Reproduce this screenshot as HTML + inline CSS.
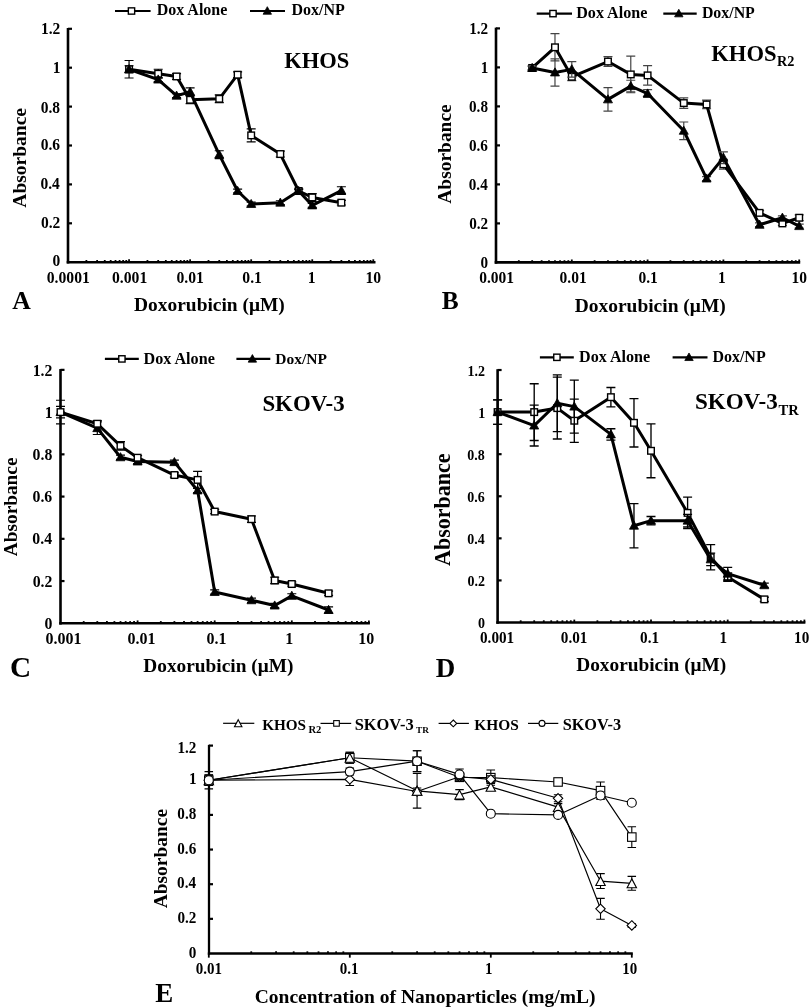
<!DOCTYPE html>
<html><head><meta charset="utf-8"><style>
html,body{margin:0;padding:0;background:#fff;}
svg{display:block;font-family:"Liberation Serif", serif;filter:blur(0.35px);}
</style></head><body>
<svg width="810" height="1008" viewBox="0 0 810 1008" fill="#000">
<rect width="810" height="1008" fill="#fff"/>
<line x1="68" y1="28" x2="68" y2="263.5" stroke="#000" stroke-width="2.6"/>
<line x1="66.7" y1="262.2" x2="375.5" y2="262.2" stroke="#000" stroke-width="2.6"/>
<line x1="68" y1="223.3" x2="72" y2="223.3" stroke="#000" stroke-width="2.2"/>
<line x1="68" y1="184.4" x2="72" y2="184.4" stroke="#000" stroke-width="2.2"/>
<line x1="68" y1="145.5" x2="72" y2="145.5" stroke="#000" stroke-width="2.2"/>
<line x1="68" y1="106.6" x2="72" y2="106.6" stroke="#000" stroke-width="2.2"/>
<line x1="68" y1="67.7" x2="72" y2="67.7" stroke="#000" stroke-width="2.2"/>
<line x1="68" y1="28.8" x2="72" y2="28.8" stroke="#000" stroke-width="2.2"/>
<line x1="86.38" y1="262.2" x2="86.38" y2="260" stroke="#000" stroke-width="1.8"/>
<line x1="97.13" y1="262.2" x2="97.13" y2="260" stroke="#000" stroke-width="1.8"/>
<line x1="104.76" y1="262.2" x2="104.76" y2="260" stroke="#000" stroke-width="1.8"/>
<line x1="110.68" y1="262.2" x2="110.68" y2="260" stroke="#000" stroke-width="1.8"/>
<line x1="115.51" y1="262.2" x2="115.51" y2="260" stroke="#000" stroke-width="1.8"/>
<line x1="119.6" y1="262.2" x2="119.6" y2="260" stroke="#000" stroke-width="1.8"/>
<line x1="123.14" y1="262.2" x2="123.14" y2="260" stroke="#000" stroke-width="1.8"/>
<line x1="126.27" y1="262.2" x2="126.27" y2="260" stroke="#000" stroke-width="1.8"/>
<line x1="129.06" y1="262.2" x2="129.06" y2="259.3" stroke="#000" stroke-width="1.8"/>
<line x1="147.44" y1="262.2" x2="147.44" y2="260" stroke="#000" stroke-width="1.8"/>
<line x1="158.19" y1="262.2" x2="158.19" y2="260" stroke="#000" stroke-width="1.8"/>
<line x1="165.82" y1="262.2" x2="165.82" y2="260" stroke="#000" stroke-width="1.8"/>
<line x1="171.74" y1="262.2" x2="171.74" y2="260" stroke="#000" stroke-width="1.8"/>
<line x1="176.57" y1="262.2" x2="176.57" y2="260" stroke="#000" stroke-width="1.8"/>
<line x1="180.66" y1="262.2" x2="180.66" y2="260" stroke="#000" stroke-width="1.8"/>
<line x1="184.2" y1="262.2" x2="184.2" y2="260" stroke="#000" stroke-width="1.8"/>
<line x1="187.33" y1="262.2" x2="187.33" y2="260" stroke="#000" stroke-width="1.8"/>
<line x1="190.12" y1="262.2" x2="190.12" y2="259.3" stroke="#000" stroke-width="1.8"/>
<line x1="208.5" y1="262.2" x2="208.5" y2="260" stroke="#000" stroke-width="1.8"/>
<line x1="219.25" y1="262.2" x2="219.25" y2="260" stroke="#000" stroke-width="1.8"/>
<line x1="226.88" y1="262.2" x2="226.88" y2="260" stroke="#000" stroke-width="1.8"/>
<line x1="232.8" y1="262.2" x2="232.8" y2="260" stroke="#000" stroke-width="1.8"/>
<line x1="237.63" y1="262.2" x2="237.63" y2="260" stroke="#000" stroke-width="1.8"/>
<line x1="241.72" y1="262.2" x2="241.72" y2="260" stroke="#000" stroke-width="1.8"/>
<line x1="245.26" y1="262.2" x2="245.26" y2="260" stroke="#000" stroke-width="1.8"/>
<line x1="248.39" y1="262.2" x2="248.39" y2="260" stroke="#000" stroke-width="1.8"/>
<line x1="251.18" y1="262.2" x2="251.18" y2="259.3" stroke="#000" stroke-width="1.8"/>
<line x1="269.56" y1="262.2" x2="269.56" y2="260" stroke="#000" stroke-width="1.8"/>
<line x1="280.31" y1="262.2" x2="280.31" y2="260" stroke="#000" stroke-width="1.8"/>
<line x1="287.94" y1="262.2" x2="287.94" y2="260" stroke="#000" stroke-width="1.8"/>
<line x1="293.86" y1="262.2" x2="293.86" y2="260" stroke="#000" stroke-width="1.8"/>
<line x1="298.69" y1="262.2" x2="298.69" y2="260" stroke="#000" stroke-width="1.8"/>
<line x1="302.78" y1="262.2" x2="302.78" y2="260" stroke="#000" stroke-width="1.8"/>
<line x1="306.32" y1="262.2" x2="306.32" y2="260" stroke="#000" stroke-width="1.8"/>
<line x1="309.45" y1="262.2" x2="309.45" y2="260" stroke="#000" stroke-width="1.8"/>
<line x1="312.24" y1="262.2" x2="312.24" y2="259.3" stroke="#000" stroke-width="1.8"/>
<line x1="330.62" y1="262.2" x2="330.62" y2="260" stroke="#000" stroke-width="1.8"/>
<line x1="341.37" y1="262.2" x2="341.37" y2="260" stroke="#000" stroke-width="1.8"/>
<line x1="349" y1="262.2" x2="349" y2="260" stroke="#000" stroke-width="1.8"/>
<line x1="354.92" y1="262.2" x2="354.92" y2="260" stroke="#000" stroke-width="1.8"/>
<line x1="359.75" y1="262.2" x2="359.75" y2="260" stroke="#000" stroke-width="1.8"/>
<line x1="363.84" y1="262.2" x2="363.84" y2="260" stroke="#000" stroke-width="1.8"/>
<line x1="367.38" y1="262.2" x2="367.38" y2="260" stroke="#000" stroke-width="1.8"/>
<line x1="370.51" y1="262.2" x2="370.51" y2="260" stroke="#000" stroke-width="1.8"/>
<line x1="373.3" y1="262.2" x2="373.3" y2="259.3" stroke="#000" stroke-width="1.8"/>
<path d="M129.06 65.75V72.76M124.56 65.75H133.56M124.56 72.76H133.56" stroke="#000" stroke-width="1.2" fill="none"/>
<path d="M158.19 69.26V78.2M153.69 69.26H162.69M153.69 78.2H162.69" stroke="#000" stroke-width="1.2" fill="none"/>
<path d="M176.57 73.53V79.37M172.07 73.53H181.07M172.07 79.37H181.07" stroke="#000" stroke-width="1.2" fill="none"/>
<path d="M190.12 95.9V103.68M185.62 95.9H194.62M185.62 103.68H194.62" stroke="#000" stroke-width="1.2" fill="none"/>
<path d="M219.25 94.93V102.71M214.75 94.93H223.75M214.75 102.71H223.75" stroke="#000" stroke-width="1.2" fill="none"/>
<path d="M237.63 71.78V77.62M233.13 71.78H242.13M233.13 77.62H242.13" stroke="#000" stroke-width="1.2" fill="none"/>
<path d="M251.18 128.97V141.8M246.68 128.97H255.68M246.68 141.8H255.68" stroke="#000" stroke-width="1.2" fill="none"/>
<path d="M280.31 151.14V156.98M275.81 151.14H284.81M275.81 156.98H284.81" stroke="#000" stroke-width="1.2" fill="none"/>
<path d="M298.69 189.07V192.96M294.19 189.07H303.19M294.19 192.96H303.19" stroke="#000" stroke-width="1.2" fill="none"/>
<path d="M312.24 193.54V201.32M307.74 193.54H316.74M307.74 201.32H316.74" stroke="#000" stroke-width="1.2" fill="none"/>
<path d="M341.37 200.35V205.02M336.87 200.35H345.87M336.87 205.02H345.87" stroke="#000" stroke-width="1.2" fill="none"/>
<path d="M129.06 69.26 L158.19 73.73 L176.57 76.45 L190.12 99.79 L219.25 98.82 L237.63 74.7 L251.18 135.39 L280.31 154.06 L298.69 191.01 L312.24 197.43 L341.37 202.68" stroke="#000" stroke-width="3" fill="none" stroke-linejoin="round"/>
<rect x="125.76" y="65.96" width="6.6" height="6.6" fill="#fff" stroke="#000" stroke-width="1.4"/>
<rect x="154.89" y="70.43" width="6.6" height="6.6" fill="#fff" stroke="#000" stroke-width="1.4"/>
<rect x="173.27" y="73.15" width="6.6" height="6.6" fill="#fff" stroke="#000" stroke-width="1.4"/>
<rect x="186.82" y="96.49" width="6.6" height="6.6" fill="#fff" stroke="#000" stroke-width="1.4"/>
<rect x="215.95" y="95.52" width="6.6" height="6.6" fill="#fff" stroke="#000" stroke-width="1.4"/>
<rect x="234.33" y="71.4" width="6.6" height="6.6" fill="#fff" stroke="#000" stroke-width="1.4"/>
<rect x="247.88" y="132.09" width="6.6" height="6.6" fill="#fff" stroke="#000" stroke-width="1.4"/>
<rect x="277.01" y="150.76" width="6.6" height="6.6" fill="#fff" stroke="#000" stroke-width="1.4"/>
<rect x="295.39" y="187.71" width="6.6" height="6.6" fill="#fff" stroke="#000" stroke-width="1.4"/>
<rect x="308.94" y="194.13" width="6.6" height="6.6" fill="#fff" stroke="#000" stroke-width="1.4"/>
<rect x="338.07" y="199.38" width="6.6" height="6.6" fill="#fff" stroke="#000" stroke-width="1.4"/>
<path d="M129.06 60.5V78.01M124.56 60.5H133.56M124.56 78.01H133.56" stroke="#000" stroke-width="1.2" fill="none"/>
<path d="M158.19 77.62V81.51M153.69 77.62H162.69M153.69 81.51H162.69" stroke="#000" stroke-width="1.2" fill="none"/>
<path d="M176.57 93.76V97.65M172.07 93.76H181.07M172.07 97.65H181.07" stroke="#000" stroke-width="1.2" fill="none"/>
<path d="M190.12 87.93V95.71M185.62 87.93H194.62M185.62 95.71H194.62" stroke="#000" stroke-width="1.2" fill="none"/>
<path d="M219.25 150.75V158.53M214.75 150.75H223.75M214.75 158.53H223.75" stroke="#000" stroke-width="1.2" fill="none"/>
<path d="M237.63 189.07V192.96M233.13 189.07H242.13M233.13 192.96H242.13" stroke="#000" stroke-width="1.2" fill="none"/>
<path d="M251.18 202.1V205.99M246.68 202.1H255.68M246.68 205.99H255.68" stroke="#000" stroke-width="1.2" fill="none"/>
<path d="M280.31 200.74V204.63M275.81 200.74H284.81M275.81 204.63H284.81" stroke="#000" stroke-width="1.2" fill="none"/>
<path d="M298.69 189.07V192.96M294.19 189.07H303.19M294.19 192.96H303.19" stroke="#000" stroke-width="1.2" fill="none"/>
<path d="M312.24 203.46V207.35M307.74 203.46H316.74M307.74 207.35H316.74" stroke="#000" stroke-width="1.2" fill="none"/>
<path d="M341.37 186.73V194.51M336.87 186.73H345.87M336.87 194.51H345.87" stroke="#000" stroke-width="1.2" fill="none"/>
<path d="M129.06 69.26 L158.19 79.56 L176.57 95.71 L190.12 91.82 L219.25 154.64 L237.63 191.01 L251.18 204.04 L280.31 202.68 L298.69 191.01 L312.24 205.41 L341.37 190.62" stroke="#000" stroke-width="3" fill="none" stroke-linejoin="round"/>
<path d="M129.06 64.61L133.57 72.74L124.55 72.74Z" fill="#000" stroke="#000" stroke-width="0.8"/>
<path d="M158.19 74.92L162.71 83.05L153.68 83.05Z" fill="#000" stroke="#000" stroke-width="0.8"/>
<path d="M176.57 91.06L181.09 99.19L172.06 99.19Z" fill="#000" stroke="#000" stroke-width="0.8"/>
<path d="M190.12 87.17L194.63 95.3L185.61 95.3Z" fill="#000" stroke="#000" stroke-width="0.8"/>
<path d="M219.25 150L223.77 158.12L214.74 158.12Z" fill="#000" stroke="#000" stroke-width="0.8"/>
<path d="M237.63 186.37L242.15 194.5L233.12 194.5Z" fill="#000" stroke="#000" stroke-width="0.8"/>
<path d="M251.18 199.4L255.69 207.53L246.67 207.53Z" fill="#000" stroke="#000" stroke-width="0.8"/>
<path d="M280.31 198.04L284.83 206.17L275.8 206.17Z" fill="#000" stroke="#000" stroke-width="0.8"/>
<path d="M298.69 186.37L303.21 194.5L294.18 194.5Z" fill="#000" stroke="#000" stroke-width="0.8"/>
<path d="M312.24 200.76L316.75 208.89L307.73 208.89Z" fill="#000" stroke="#000" stroke-width="0.8"/>
<path d="M341.37 185.98L345.89 194.11L336.86 194.11Z" fill="#000" stroke="#000" stroke-width="0.8"/>
<line x1="115" y1="11" x2="150.6" y2="11" stroke="#000" stroke-width="2.2"/>
<rect x="128.35" y="7.85" width="6.3" height="6.3" fill="#fff" stroke="#000" stroke-width="1.4"/>
<text x="156.72" y="15.2" font-size="15.99" font-weight="bold" >Dox Alone</text>
<line x1="250" y1="11" x2="285" y2="11" stroke="#000" stroke-width="2.2"/>
<path d="M267.3 6.68L271.5 14.24L263.1 14.24Z" fill="#000" stroke="#000" stroke-width="0.8"/>
<text x="291.42" y="15.2" font-size="16" font-weight="bold" >Dox/NP</text>
<text x="284.21" y="68.2" font-size="22.56" font-weight="bold" >KHOS</text>
<text transform="translate(52.43,266.44) scale(1,1.07)" font-size="15.5" font-weight="bold" >0</text>
<text transform="translate(40.88,227.9) scale(1,1.07)" font-size="15.5" font-weight="bold" >0.2</text>
<text transform="translate(40.5,189.1) scale(1,1.07)" font-size="15.5" font-weight="bold" >0.4</text>
<text transform="translate(40.69,149.9) scale(1,1.07)" font-size="15.5" font-weight="bold" >0.6</text>
<text transform="translate(40.73,112.9) scale(1,1.07)" font-size="15.5" font-weight="bold" >0.8</text>
<text transform="translate(52.66,72.57) scale(1,1.07)" font-size="15.5" font-weight="bold" >1</text>
<text transform="translate(40.88,34.18) scale(1,1.07)" font-size="15.5" font-weight="bold" >1.2</text>
<text transform="translate(46.73,282.8) scale(1,1.06)" font-size="15.7" font-weight="bold" >0.0001</text>
<text transform="translate(111.96,282.8) scale(1,1.06)" font-size="15.7" font-weight="bold" >0.001</text>
<text transform="translate(176.38,282.8) scale(1,1.06)" font-size="15.7" font-weight="bold" >0.01</text>
<text transform="translate(242.31,282.8) scale(1,1.06)" font-size="15.7" font-weight="bold" >0.1</text>
<text transform="translate(307.76,282.8) scale(1,1.06)" font-size="15.7" font-weight="bold" >1</text>
<text transform="translate(365.42,282.8) scale(1,1.06)" font-size="15.7" font-weight="bold" >10</text>
<text x="134.06" y="310.9" font-size="19.43" font-weight="bold" >Doxorubicin (μM)</text>
<text x="12.14" y="308.9" font-size="25.67" font-weight="bold" >A</text>
<text transform="translate(26.2,207.7) rotate(-90)" x="0" y="0" font-size="19.51" font-weight="bold">Absorbance</text>
<line x1="496" y1="27.6" x2="496" y2="263.7" stroke="#000" stroke-width="2.6"/>
<line x1="494.7" y1="262.4" x2="800.2" y2="262.4" stroke="#000" stroke-width="2.6"/>
<line x1="496" y1="223.4" x2="500" y2="223.4" stroke="#000" stroke-width="2.2"/>
<line x1="496" y1="184.4" x2="500" y2="184.4" stroke="#000" stroke-width="2.2"/>
<line x1="496" y1="145.4" x2="500" y2="145.4" stroke="#000" stroke-width="2.2"/>
<line x1="496" y1="106.4" x2="500" y2="106.4" stroke="#000" stroke-width="2.2"/>
<line x1="496" y1="67.4" x2="500" y2="67.4" stroke="#000" stroke-width="2.2"/>
<line x1="496" y1="28.4" x2="500" y2="28.4" stroke="#000" stroke-width="2.2"/>
<line x1="518.82" y1="262.4" x2="518.82" y2="260.2" stroke="#000" stroke-width="1.8"/>
<line x1="532.17" y1="262.4" x2="532.17" y2="260.2" stroke="#000" stroke-width="1.8"/>
<line x1="541.64" y1="262.4" x2="541.64" y2="260.2" stroke="#000" stroke-width="1.8"/>
<line x1="548.98" y1="262.4" x2="548.98" y2="260.2" stroke="#000" stroke-width="1.8"/>
<line x1="554.98" y1="262.4" x2="554.98" y2="260.2" stroke="#000" stroke-width="1.8"/>
<line x1="560.06" y1="262.4" x2="560.06" y2="260.2" stroke="#000" stroke-width="1.8"/>
<line x1="564.45" y1="262.4" x2="564.45" y2="260.2" stroke="#000" stroke-width="1.8"/>
<line x1="568.33" y1="262.4" x2="568.33" y2="260.2" stroke="#000" stroke-width="1.8"/>
<line x1="571.8" y1="262.4" x2="571.8" y2="259.5" stroke="#000" stroke-width="1.8"/>
<line x1="594.62" y1="262.4" x2="594.62" y2="260.2" stroke="#000" stroke-width="1.8"/>
<line x1="607.97" y1="262.4" x2="607.97" y2="260.2" stroke="#000" stroke-width="1.8"/>
<line x1="617.44" y1="262.4" x2="617.44" y2="260.2" stroke="#000" stroke-width="1.8"/>
<line x1="624.78" y1="262.4" x2="624.78" y2="260.2" stroke="#000" stroke-width="1.8"/>
<line x1="630.78" y1="262.4" x2="630.78" y2="260.2" stroke="#000" stroke-width="1.8"/>
<line x1="635.86" y1="262.4" x2="635.86" y2="260.2" stroke="#000" stroke-width="1.8"/>
<line x1="640.25" y1="262.4" x2="640.25" y2="260.2" stroke="#000" stroke-width="1.8"/>
<line x1="644.13" y1="262.4" x2="644.13" y2="260.2" stroke="#000" stroke-width="1.8"/>
<line x1="647.6" y1="262.4" x2="647.6" y2="259.5" stroke="#000" stroke-width="1.8"/>
<line x1="670.42" y1="262.4" x2="670.42" y2="260.2" stroke="#000" stroke-width="1.8"/>
<line x1="683.77" y1="262.4" x2="683.77" y2="260.2" stroke="#000" stroke-width="1.8"/>
<line x1="693.24" y1="262.4" x2="693.24" y2="260.2" stroke="#000" stroke-width="1.8"/>
<line x1="700.58" y1="262.4" x2="700.58" y2="260.2" stroke="#000" stroke-width="1.8"/>
<line x1="706.58" y1="262.4" x2="706.58" y2="260.2" stroke="#000" stroke-width="1.8"/>
<line x1="711.66" y1="262.4" x2="711.66" y2="260.2" stroke="#000" stroke-width="1.8"/>
<line x1="716.05" y1="262.4" x2="716.05" y2="260.2" stroke="#000" stroke-width="1.8"/>
<line x1="719.93" y1="262.4" x2="719.93" y2="260.2" stroke="#000" stroke-width="1.8"/>
<line x1="723.4" y1="262.4" x2="723.4" y2="259.5" stroke="#000" stroke-width="1.8"/>
<line x1="746.22" y1="262.4" x2="746.22" y2="260.2" stroke="#000" stroke-width="1.8"/>
<line x1="759.57" y1="262.4" x2="759.57" y2="260.2" stroke="#000" stroke-width="1.8"/>
<line x1="769.04" y1="262.4" x2="769.04" y2="260.2" stroke="#000" stroke-width="1.8"/>
<line x1="776.38" y1="262.4" x2="776.38" y2="260.2" stroke="#000" stroke-width="1.8"/>
<line x1="782.38" y1="262.4" x2="782.38" y2="260.2" stroke="#000" stroke-width="1.8"/>
<line x1="787.46" y1="262.4" x2="787.46" y2="260.2" stroke="#000" stroke-width="1.8"/>
<line x1="791.85" y1="262.4" x2="791.85" y2="260.2" stroke="#000" stroke-width="1.8"/>
<line x1="795.73" y1="262.4" x2="795.73" y2="260.2" stroke="#000" stroke-width="1.8"/>
<line x1="799.2" y1="262.4" x2="799.2" y2="259.5" stroke="#000" stroke-width="1.8"/>
<path d="M532.17 66.03V69.93M527.67 66.03H536.67M527.67 69.93H536.67" stroke="#444" stroke-width="1.2" fill="none"/>
<path d="M554.98 33.66V60.96M550.48 33.66H559.48M550.48 60.96H559.48" stroke="#444" stroke-width="1.2" fill="none"/>
<path d="M571.8 72.86V80.66M567.3 72.86H576.3M567.3 80.66H576.3" stroke="#444" stroke-width="1.2" fill="none"/>
<path d="M607.97 56.67V66.42M603.47 56.67H612.47M603.47 66.42H612.47" stroke="#444" stroke-width="1.2" fill="none"/>
<path d="M630.78 56.09V92.75M626.28 56.09H635.28M626.28 92.75H635.28" stroke="#444" stroke-width="1.2" fill="none"/>
<path d="M647.6 65.64V85.14M643.1 65.64H652.1M643.1 85.14H652.1" stroke="#444" stroke-width="1.2" fill="none"/>
<path d="M683.77 97.82V108.35M679.27 97.82H688.27M679.27 108.35H688.27" stroke="#444" stroke-width="1.2" fill="none"/>
<path d="M706.58 100.16V108.74M702.08 100.16H711.08M702.08 108.74H711.08" stroke="#444" stroke-width="1.2" fill="none"/>
<path d="M723.4 159.44V169.19M718.9 159.44H727.9M718.9 169.19H727.9" stroke="#444" stroke-width="1.2" fill="none"/>
<path d="M759.57 210.53V215.21M755.07 210.53H764.07M755.07 215.21H764.07" stroke="#444" stroke-width="1.2" fill="none"/>
<path d="M782.38 221.45V225.35M777.88 221.45H786.88M777.88 225.35H786.88" stroke="#444" stroke-width="1.2" fill="none"/>
<path d="M799.2 214.82V220.67M794.7 214.82H803.7M794.7 220.67H803.7" stroke="#444" stroke-width="1.2" fill="none"/>
<path d="M532.17 67.98 L554.98 47.31 L571.8 76.76 L607.97 61.55 L630.78 74.42 L647.6 75.39 L683.77 103.08 L706.58 104.45 L723.4 164.31 L759.57 212.87 L782.38 223.4 L799.2 217.74" stroke="#000" stroke-width="3" fill="none" stroke-linejoin="round"/>
<rect x="528.87" y="64.68" width="6.6" height="6.6" fill="#fff" stroke="#000" stroke-width="1.4"/>
<rect x="551.68" y="44.01" width="6.6" height="6.6" fill="#fff" stroke="#000" stroke-width="1.4"/>
<rect x="568.5" y="73.46" width="6.6" height="6.6" fill="#fff" stroke="#000" stroke-width="1.4"/>
<rect x="604.67" y="58.25" width="6.6" height="6.6" fill="#fff" stroke="#000" stroke-width="1.4"/>
<rect x="627.48" y="71.12" width="6.6" height="6.6" fill="#fff" stroke="#000" stroke-width="1.4"/>
<rect x="644.3" y="72.09" width="6.6" height="6.6" fill="#fff" stroke="#000" stroke-width="1.4"/>
<rect x="680.47" y="99.78" width="6.6" height="6.6" fill="#fff" stroke="#000" stroke-width="1.4"/>
<rect x="703.28" y="101.15" width="6.6" height="6.6" fill="#fff" stroke="#000" stroke-width="1.4"/>
<rect x="720.1" y="161.01" width="6.6" height="6.6" fill="#fff" stroke="#000" stroke-width="1.4"/>
<rect x="756.27" y="209.57" width="6.6" height="6.6" fill="#fff" stroke="#000" stroke-width="1.4"/>
<rect x="779.08" y="220.1" width="6.6" height="6.6" fill="#fff" stroke="#000" stroke-width="1.4"/>
<rect x="795.9" y="214.44" width="6.6" height="6.6" fill="#fff" stroke="#000" stroke-width="1.4"/>
<path d="M532.17 66.03V69.93M527.67 66.03H536.67M527.67 69.93H536.67" stroke="#444" stroke-width="1.2" fill="none"/>
<path d="M554.98 58.82V86.12M550.48 58.82H559.48M550.48 86.12H559.48" stroke="#444" stroke-width="1.2" fill="none"/>
<path d="M571.8 61.55V77.15M567.3 61.55H576.3M567.3 77.15H576.3" stroke="#444" stroke-width="1.2" fill="none"/>
<path d="M607.97 87.68V111.08M603.47 87.68H612.47M603.47 111.08H612.47" stroke="#444" stroke-width="1.2" fill="none"/>
<path d="M630.78 80.27V91.97M626.28 80.27H635.28M626.28 91.97H635.28" stroke="#444" stroke-width="1.2" fill="none"/>
<path d="M647.6 89.63V97.43M643.1 89.63H652.1M643.1 97.43H652.1" stroke="#444" stroke-width="1.2" fill="none"/>
<path d="M683.77 122V139.55M679.27 122H688.27M679.27 139.55H688.27" stroke="#444" stroke-width="1.2" fill="none"/>
<path d="M706.58 176.6V180.5M702.08 176.6H711.08M702.08 180.5H711.08" stroke="#444" stroke-width="1.2" fill="none"/>
<path d="M723.4 151.83V163.53M718.9 151.83H727.9M718.9 163.53H727.9" stroke="#444" stroke-width="1.2" fill="none"/>
<path d="M759.57 222.81V226.71M755.07 222.81H764.07M755.07 226.71H764.07" stroke="#444" stroke-width="1.2" fill="none"/>
<path d="M782.38 215.79V219.69M777.88 215.79H786.88M777.88 219.69H786.88" stroke="#444" stroke-width="1.2" fill="none"/>
<path d="M799.2 224.18V228.08M794.7 224.18H803.7M794.7 228.08H803.7" stroke="#444" stroke-width="1.2" fill="none"/>
<path d="M532.17 67.98 L554.98 72.47 L571.8 69.35 L607.97 99.38 L630.78 86.12 L647.6 93.53 L683.77 130.77 L706.58 178.55 L723.4 157.68 L759.57 224.76 L782.38 217.74 L799.2 226.13" stroke="#000" stroke-width="3" fill="none" stroke-linejoin="round"/>
<path d="M532.17 63.34L536.68 71.47L527.65 71.47Z" fill="#000" stroke="#000" stroke-width="0.8"/>
<path d="M554.98 67.83L559.5 75.95L550.47 75.95Z" fill="#000" stroke="#000" stroke-width="0.8"/>
<path d="M571.8 64.71L576.31 72.83L567.28 72.83Z" fill="#000" stroke="#000" stroke-width="0.8"/>
<path d="M607.97 94.74L612.48 102.86L603.45 102.86Z" fill="#000" stroke="#000" stroke-width="0.8"/>
<path d="M630.78 81.48L635.3 89.6L626.27 89.6Z" fill="#000" stroke="#000" stroke-width="0.8"/>
<path d="M647.6 88.89L652.12 97.01L643.09 97.01Z" fill="#000" stroke="#000" stroke-width="0.8"/>
<path d="M683.77 126.13L688.28 134.26L679.25 134.26Z" fill="#000" stroke="#000" stroke-width="0.8"/>
<path d="M706.58 173.91L711.1 182.03L702.07 182.03Z" fill="#000" stroke="#000" stroke-width="0.8"/>
<path d="M723.4 153.04L727.91 161.17L718.88 161.17Z" fill="#000" stroke="#000" stroke-width="0.8"/>
<path d="M759.57 220.12L764.08 228.25L755.05 228.25Z" fill="#000" stroke="#000" stroke-width="0.8"/>
<path d="M782.38 213.1L786.9 221.23L777.87 221.23Z" fill="#000" stroke="#000" stroke-width="0.8"/>
<path d="M799.2 221.49L803.72 229.61L794.69 229.61Z" fill="#000" stroke="#000" stroke-width="0.8"/>
<line x1="536.7" y1="13.6" x2="572" y2="13.6" stroke="#000" stroke-width="2.2"/>
<rect x="549.85" y="10.45" width="6.3" height="6.3" fill="#fff" stroke="#000" stroke-width="1.4"/>
<text x="576.22" y="17.7" font-size="16.1" font-weight="bold" >Dox Alone</text>
<line x1="663.3" y1="13.6" x2="696.7" y2="13.6" stroke="#000" stroke-width="2.2"/>
<path d="M678.8 9.28L683 16.84L674.6 16.84Z" fill="#000" stroke="#000" stroke-width="0.8"/>
<text x="701.92" y="17.7" font-size="15.88" font-weight="bold" >Dox/NP</text>
<text x="711.3" y="60.7" font-size="22.6" font-weight="bold" >KHOS</text>
<text x="776.95" y="66" font-size="14.28" font-weight="bold" >R2</text>
<text transform="translate(480.47,267.73) scale(1,1.07)" font-size="15.2" font-weight="bold" >0</text>
<text transform="translate(469.15,228.69) scale(1,1.07)" font-size="15.2" font-weight="bold" >0.2</text>
<text transform="translate(468.77,189.69) scale(1,1.07)" font-size="15.2" font-weight="bold" >0.4</text>
<text transform="translate(468.96,150.69) scale(1,1.07)" font-size="15.2" font-weight="bold" >0.6</text>
<text transform="translate(468.99,111.69) scale(1,1.07)" font-size="15.2" font-weight="bold" >0.8</text>
<text transform="translate(480.7,72.77) scale(1,1.07)" font-size="15.2" font-weight="bold" >1</text>
<text transform="translate(469.15,33.67) scale(1,1.07)" font-size="15.2" font-weight="bold" >1.2</text>
<text transform="translate(479.18,282.5) scale(1,1.06)" font-size="15.5" font-weight="bold" >0.001</text>
<text transform="translate(559.55,282.5) scale(1,1.06)" font-size="15.5" font-weight="bold" >0.01</text>
<text transform="translate(638.43,282.5) scale(1,1.06)" font-size="15.5" font-weight="bold" >0.1</text>
<text transform="translate(717.91,282.5) scale(1,1.06)" font-size="15.5" font-weight="bold" >1</text>
<text transform="translate(791.42,282.5) scale(1,1.06)" font-size="15.5" font-weight="bold" >10</text>
<text x="574.66" y="311.5" font-size="19.48" font-weight="bold" >Doxorubicin (μM)</text>
<text x="441.86" y="308.5" font-size="25.38" font-weight="bold" >B</text>
<text transform="translate(450.61,203.69) rotate(-90)" x="0" y="0" font-size="19.45" font-weight="bold">Absorbance</text>
<line x1="60.5" y1="369.06" x2="60.5" y2="624.6" stroke="#000" stroke-width="2.6"/>
<line x1="59.2" y1="623.3" x2="369.9" y2="623.3" stroke="#000" stroke-width="2.6"/>
<line x1="60.5" y1="581.06" x2="64.5" y2="581.06" stroke="#000" stroke-width="2.2"/>
<line x1="60.5" y1="538.82" x2="64.5" y2="538.82" stroke="#000" stroke-width="2.2"/>
<line x1="60.5" y1="496.58" x2="64.5" y2="496.58" stroke="#000" stroke-width="2.2"/>
<line x1="60.5" y1="454.34" x2="64.5" y2="454.34" stroke="#000" stroke-width="2.2"/>
<line x1="60.5" y1="412.1" x2="64.5" y2="412.1" stroke="#000" stroke-width="2.2"/>
<line x1="60.5" y1="369.86" x2="64.5" y2="369.86" stroke="#000" stroke-width="2.2"/>
<line x1="83.71" y1="623.3" x2="83.71" y2="621.1" stroke="#000" stroke-width="1.8"/>
<line x1="97.29" y1="623.3" x2="97.29" y2="621.1" stroke="#000" stroke-width="1.8"/>
<line x1="106.92" y1="623.3" x2="106.92" y2="621.1" stroke="#000" stroke-width="1.8"/>
<line x1="114.39" y1="623.3" x2="114.39" y2="621.1" stroke="#000" stroke-width="1.8"/>
<line x1="120.5" y1="623.3" x2="120.5" y2="621.1" stroke="#000" stroke-width="1.8"/>
<line x1="125.66" y1="623.3" x2="125.66" y2="621.1" stroke="#000" stroke-width="1.8"/>
<line x1="130.13" y1="623.3" x2="130.13" y2="621.1" stroke="#000" stroke-width="1.8"/>
<line x1="134.07" y1="623.3" x2="134.07" y2="621.1" stroke="#000" stroke-width="1.8"/>
<line x1="137.6" y1="623.3" x2="137.6" y2="620.4" stroke="#000" stroke-width="1.8"/>
<line x1="160.81" y1="623.3" x2="160.81" y2="621.1" stroke="#000" stroke-width="1.8"/>
<line x1="174.39" y1="623.3" x2="174.39" y2="621.1" stroke="#000" stroke-width="1.8"/>
<line x1="184.02" y1="623.3" x2="184.02" y2="621.1" stroke="#000" stroke-width="1.8"/>
<line x1="191.49" y1="623.3" x2="191.49" y2="621.1" stroke="#000" stroke-width="1.8"/>
<line x1="197.6" y1="623.3" x2="197.6" y2="621.1" stroke="#000" stroke-width="1.8"/>
<line x1="202.76" y1="623.3" x2="202.76" y2="621.1" stroke="#000" stroke-width="1.8"/>
<line x1="207.23" y1="623.3" x2="207.23" y2="621.1" stroke="#000" stroke-width="1.8"/>
<line x1="211.17" y1="623.3" x2="211.17" y2="621.1" stroke="#000" stroke-width="1.8"/>
<line x1="214.7" y1="623.3" x2="214.7" y2="620.4" stroke="#000" stroke-width="1.8"/>
<line x1="237.91" y1="623.3" x2="237.91" y2="621.1" stroke="#000" stroke-width="1.8"/>
<line x1="251.49" y1="623.3" x2="251.49" y2="621.1" stroke="#000" stroke-width="1.8"/>
<line x1="261.12" y1="623.3" x2="261.12" y2="621.1" stroke="#000" stroke-width="1.8"/>
<line x1="268.59" y1="623.3" x2="268.59" y2="621.1" stroke="#000" stroke-width="1.8"/>
<line x1="274.7" y1="623.3" x2="274.7" y2="621.1" stroke="#000" stroke-width="1.8"/>
<line x1="279.86" y1="623.3" x2="279.86" y2="621.1" stroke="#000" stroke-width="1.8"/>
<line x1="284.33" y1="623.3" x2="284.33" y2="621.1" stroke="#000" stroke-width="1.8"/>
<line x1="288.27" y1="623.3" x2="288.27" y2="621.1" stroke="#000" stroke-width="1.8"/>
<line x1="291.8" y1="623.3" x2="291.8" y2="620.4" stroke="#000" stroke-width="1.8"/>
<line x1="315.01" y1="623.3" x2="315.01" y2="621.1" stroke="#000" stroke-width="1.8"/>
<line x1="328.59" y1="623.3" x2="328.59" y2="621.1" stroke="#000" stroke-width="1.8"/>
<line x1="338.22" y1="623.3" x2="338.22" y2="621.1" stroke="#000" stroke-width="1.8"/>
<line x1="345.69" y1="623.3" x2="345.69" y2="621.1" stroke="#000" stroke-width="1.8"/>
<line x1="351.8" y1="623.3" x2="351.8" y2="621.1" stroke="#000" stroke-width="1.8"/>
<line x1="356.96" y1="623.3" x2="356.96" y2="621.1" stroke="#000" stroke-width="1.8"/>
<line x1="361.43" y1="623.3" x2="361.43" y2="621.1" stroke="#000" stroke-width="1.8"/>
<line x1="365.37" y1="623.3" x2="365.37" y2="621.1" stroke="#000" stroke-width="1.8"/>
<line x1="368.9" y1="623.3" x2="368.9" y2="620.4" stroke="#000" stroke-width="1.8"/>
<path d="M60.5 400.27V423.93M56 400.27H65M56 423.93H65" stroke="#000" stroke-width="1.2" fill="none"/>
<path d="M97.29 421.82V434.49M92.79 421.82H101.79M92.79 434.49H101.79" stroke="#000" stroke-width="1.2" fill="none"/>
<path d="M120.5 455.18V459.41M116 455.18H125M116 459.41H125" stroke="#000" stroke-width="1.2" fill="none"/>
<path d="M137.6 459.41V463.63M133.1 459.41H142.1M133.1 463.63H142.1" stroke="#000" stroke-width="1.2" fill="none"/>
<path d="M174.39 460.04V464.27M169.89 460.04H178.89M169.89 464.27H178.89" stroke="#000" stroke-width="1.2" fill="none"/>
<path d="M197.6 488.34V492.57M193.1 488.34H202.1M193.1 492.57H202.1" stroke="#000" stroke-width="1.2" fill="none"/>
<path d="M214.7 589.93V594.15M210.2 589.93H219.2M210.2 594.15H219.2" stroke="#000" stroke-width="1.2" fill="none"/>
<path d="M251.49 598.17V602.39M246.99 598.17H255.99M246.99 602.39H255.99" stroke="#000" stroke-width="1.2" fill="none"/>
<path d="M274.7 603.45V607.67M270.2 603.45H279.2M270.2 607.67H279.2" stroke="#000" stroke-width="1.2" fill="none"/>
<path d="M291.8 593.73V597.96M287.3 593.73H296.3M287.3 597.96H296.3" stroke="#000" stroke-width="1.2" fill="none"/>
<path d="M328.59 606.83V613.16M324.09 606.83H333.09M324.09 613.16H333.09" stroke="#000" stroke-width="1.2" fill="none"/>
<path d="M60.5 412.1 L97.29 428.15 L120.5 457.3 L137.6 461.52 L174.39 462.15 L197.6 490.46 L214.7 592.04 L251.49 600.28 L274.7 605.56 L291.8 595.84 L328.59 609.99" stroke="#000" stroke-width="3" fill="none" stroke-linejoin="round"/>
<path d="M60.5 407.46L65.02 415.58L55.98 415.58Z" fill="#000" stroke="#000" stroke-width="0.8"/>
<path d="M97.29 423.51L101.8 431.63L92.77 431.63Z" fill="#000" stroke="#000" stroke-width="0.8"/>
<path d="M120.5 452.65L125.01 460.78L115.98 460.78Z" fill="#000" stroke="#000" stroke-width="0.8"/>
<path d="M137.6 456.88L142.11 465L133.09 465Z" fill="#000" stroke="#000" stroke-width="0.8"/>
<path d="M174.39 457.51L178.9 465.64L169.87 465.64Z" fill="#000" stroke="#000" stroke-width="0.8"/>
<path d="M197.6 485.81L202.11 493.94L193.08 493.94Z" fill="#000" stroke="#000" stroke-width="0.8"/>
<path d="M214.7 587.4L219.21 595.53L210.19 595.53Z" fill="#000" stroke="#000" stroke-width="0.8"/>
<path d="M251.49 595.64L256 603.76L246.97 603.76Z" fill="#000" stroke="#000" stroke-width="0.8"/>
<path d="M274.7 600.92L279.21 609.04L270.18 609.04Z" fill="#000" stroke="#000" stroke-width="0.8"/>
<path d="M291.8 591.2L296.31 599.33L287.28 599.33Z" fill="#000" stroke="#000" stroke-width="0.8"/>
<path d="M328.59 605.35L333.1 613.48L324.07 613.48Z" fill="#000" stroke="#000" stroke-width="0.8"/>
<path d="M60.5 406.4V417.8M56 406.4H65M56 417.8H65" stroke="#000" stroke-width="1.2" fill="none"/>
<path d="M97.29 420.55V426.88M92.79 420.55H101.79M92.79 426.88H101.79" stroke="#000" stroke-width="1.2" fill="none"/>
<path d="M120.5 441.67V450.12M116 441.67H125M116 450.12H125" stroke="#000" stroke-width="1.2" fill="none"/>
<path d="M137.6 455.61V459.83M133.1 455.61H142.1M133.1 459.83H142.1" stroke="#000" stroke-width="1.2" fill="none"/>
<path d="M174.39 472.93V477.15M169.89 472.93H178.89M169.89 477.15H178.89" stroke="#000" stroke-width="1.2" fill="none"/>
<path d="M197.6 471.45V488.34M193.1 471.45H202.1M193.1 488.34H202.1" stroke="#000" stroke-width="1.2" fill="none"/>
<path d="M214.7 509.46V513.69M210.2 509.46H219.2M210.2 513.69H219.2" stroke="#000" stroke-width="1.2" fill="none"/>
<path d="M251.49 516.01V522.35M246.99 516.01H255.99M246.99 522.35H255.99" stroke="#000" stroke-width="1.2" fill="none"/>
<path d="M274.7 577.26V583.59M270.2 577.26H279.2M270.2 583.59H279.2" stroke="#000" stroke-width="1.2" fill="none"/>
<path d="M291.8 581.9V586.13M287.3 581.9H296.3M287.3 586.13H296.3" stroke="#000" stroke-width="1.2" fill="none"/>
<path d="M328.59 591.2V595.42M324.09 591.2H333.09M324.09 595.42H333.09" stroke="#000" stroke-width="1.2" fill="none"/>
<path d="M60.5 412.1 L97.29 423.72 L120.5 445.89 L137.6 457.72 L174.39 475.04 L197.6 479.9 L214.7 511.58 L251.49 519.18 L274.7 580.43 L291.8 584.02 L328.59 593.31" stroke="#000" stroke-width="3" fill="none" stroke-linejoin="round"/>
<rect x="57.2" y="408.8" width="6.6" height="6.6" fill="#fff" stroke="#000" stroke-width="1.4"/>
<rect x="93.99" y="420.42" width="6.6" height="6.6" fill="#fff" stroke="#000" stroke-width="1.4"/>
<rect x="117.2" y="442.59" width="6.6" height="6.6" fill="#fff" stroke="#000" stroke-width="1.4"/>
<rect x="134.3" y="454.42" width="6.6" height="6.6" fill="#fff" stroke="#000" stroke-width="1.4"/>
<rect x="171.09" y="471.74" width="6.6" height="6.6" fill="#fff" stroke="#000" stroke-width="1.4"/>
<rect x="194.3" y="476.6" width="6.6" height="6.6" fill="#fff" stroke="#000" stroke-width="1.4"/>
<rect x="211.4" y="508.28" width="6.6" height="6.6" fill="#fff" stroke="#000" stroke-width="1.4"/>
<rect x="248.19" y="515.88" width="6.6" height="6.6" fill="#fff" stroke="#000" stroke-width="1.4"/>
<rect x="271.4" y="577.13" width="6.6" height="6.6" fill="#fff" stroke="#000" stroke-width="1.4"/>
<rect x="288.5" y="580.72" width="6.6" height="6.6" fill="#fff" stroke="#000" stroke-width="1.4"/>
<rect x="325.29" y="590.01" width="6.6" height="6.6" fill="#fff" stroke="#000" stroke-width="1.4"/>
<line x1="104.9" y1="358.9" x2="138.8" y2="358.9" stroke="#000" stroke-width="2.2"/>
<rect x="118.75" y="355.75" width="6.3" height="6.3" fill="#fff" stroke="#000" stroke-width="1.4"/>
<text x="143.52" y="363.5" font-size="16.15" font-weight="bold" >Dox Alone</text>
<line x1="236.4" y1="358.9" x2="270.3" y2="358.9" stroke="#000" stroke-width="2.2"/>
<path d="M252.4 354.58L256.6 362.14L248.2 362.14Z" fill="#000" stroke="#000" stroke-width="0.8"/>
<text x="275.33" y="363.5" font-size="15.48" font-weight="bold" >Dox/NP</text>
<text x="262.4" y="410.5" font-size="22.88" font-weight="bold" >SKOV-3</text>
<text transform="translate(44.49,629) scale(1,1.1)" font-size="15.8" font-weight="bold" >0</text>
<text transform="translate(32.72,586.72) scale(1,1.1)" font-size="15.8" font-weight="bold" >0.2</text>
<text transform="translate(32.33,544.48) scale(1,1.1)" font-size="15.8" font-weight="bold" >0.4</text>
<text transform="translate(32.52,502.24) scale(1,1.1)" font-size="15.8" font-weight="bold" >0.6</text>
<text transform="translate(32.56,460) scale(1,1.1)" font-size="15.8" font-weight="bold" >0.8</text>
<text transform="translate(44.73,417.84) scale(1,1.1)" font-size="15.8" font-weight="bold" >1</text>
<text transform="translate(32.72,375.5) scale(1,1.1)" font-size="15.8" font-weight="bold" >1.2</text>
<text transform="translate(45.42,643.6) scale(1,1.1)" font-size="16" font-weight="bold" >0.001</text>
<text transform="translate(127.42,643.6) scale(1,1.1)" font-size="16" font-weight="bold" >0.01</text>
<text transform="translate(206.42,643.6) scale(1,1.1)" font-size="16" font-weight="bold" >0.1</text>
<text transform="translate(285.28,643.6) scale(1,1.1)" font-size="16" font-weight="bold" >1</text>
<text transform="translate(358.16,643.6) scale(1,1.1)" font-size="16" font-weight="bold" >10</text>
<text x="143.26" y="671.8" font-size="19.35" font-weight="bold" >Doxorubicin (μM)</text>
<text x="10.04" y="677.2" font-size="29.24" font-weight="bold" >C</text>
<text transform="translate(16.61,556.19) rotate(-90)" x="0" y="0" font-size="19.31" font-weight="bold">Absorbance</text>
<line x1="497.6" y1="369.22" x2="497.6" y2="623.8" stroke="#000" stroke-width="2.6"/>
<line x1="496.3" y1="622.5" x2="805.4" y2="622.5" stroke="#000" stroke-width="2.6"/>
<line x1="497.6" y1="580.42" x2="501.6" y2="580.42" stroke="#000" stroke-width="2.2"/>
<line x1="497.6" y1="538.34" x2="501.6" y2="538.34" stroke="#000" stroke-width="2.2"/>
<line x1="497.6" y1="496.26" x2="501.6" y2="496.26" stroke="#000" stroke-width="2.2"/>
<line x1="497.6" y1="454.18" x2="501.6" y2="454.18" stroke="#000" stroke-width="2.2"/>
<line x1="497.6" y1="412.1" x2="501.6" y2="412.1" stroke="#000" stroke-width="2.2"/>
<line x1="497.6" y1="370.02" x2="501.6" y2="370.02" stroke="#000" stroke-width="2.2"/>
<line x1="520.69" y1="622.5" x2="520.69" y2="620.3" stroke="#000" stroke-width="1.8"/>
<line x1="534.2" y1="622.5" x2="534.2" y2="620.3" stroke="#000" stroke-width="1.8"/>
<line x1="543.78" y1="622.5" x2="543.78" y2="620.3" stroke="#000" stroke-width="1.8"/>
<line x1="551.21" y1="622.5" x2="551.21" y2="620.3" stroke="#000" stroke-width="1.8"/>
<line x1="557.28" y1="622.5" x2="557.28" y2="620.3" stroke="#000" stroke-width="1.8"/>
<line x1="562.42" y1="622.5" x2="562.42" y2="620.3" stroke="#000" stroke-width="1.8"/>
<line x1="566.87" y1="622.5" x2="566.87" y2="620.3" stroke="#000" stroke-width="1.8"/>
<line x1="570.79" y1="622.5" x2="570.79" y2="620.3" stroke="#000" stroke-width="1.8"/>
<line x1="574.3" y1="622.5" x2="574.3" y2="619.6" stroke="#000" stroke-width="1.8"/>
<line x1="597.39" y1="622.5" x2="597.39" y2="620.3" stroke="#000" stroke-width="1.8"/>
<line x1="610.9" y1="622.5" x2="610.9" y2="620.3" stroke="#000" stroke-width="1.8"/>
<line x1="620.48" y1="622.5" x2="620.48" y2="620.3" stroke="#000" stroke-width="1.8"/>
<line x1="627.91" y1="622.5" x2="627.91" y2="620.3" stroke="#000" stroke-width="1.8"/>
<line x1="633.98" y1="622.5" x2="633.98" y2="620.3" stroke="#000" stroke-width="1.8"/>
<line x1="639.12" y1="622.5" x2="639.12" y2="620.3" stroke="#000" stroke-width="1.8"/>
<line x1="643.57" y1="622.5" x2="643.57" y2="620.3" stroke="#000" stroke-width="1.8"/>
<line x1="647.49" y1="622.5" x2="647.49" y2="620.3" stroke="#000" stroke-width="1.8"/>
<line x1="651" y1="622.5" x2="651" y2="619.6" stroke="#000" stroke-width="1.8"/>
<line x1="674.09" y1="622.5" x2="674.09" y2="620.3" stroke="#000" stroke-width="1.8"/>
<line x1="687.6" y1="622.5" x2="687.6" y2="620.3" stroke="#000" stroke-width="1.8"/>
<line x1="697.18" y1="622.5" x2="697.18" y2="620.3" stroke="#000" stroke-width="1.8"/>
<line x1="704.61" y1="622.5" x2="704.61" y2="620.3" stroke="#000" stroke-width="1.8"/>
<line x1="710.68" y1="622.5" x2="710.68" y2="620.3" stroke="#000" stroke-width="1.8"/>
<line x1="715.82" y1="622.5" x2="715.82" y2="620.3" stroke="#000" stroke-width="1.8"/>
<line x1="720.27" y1="622.5" x2="720.27" y2="620.3" stroke="#000" stroke-width="1.8"/>
<line x1="724.19" y1="622.5" x2="724.19" y2="620.3" stroke="#000" stroke-width="1.8"/>
<line x1="727.7" y1="622.5" x2="727.7" y2="619.6" stroke="#000" stroke-width="1.8"/>
<line x1="750.79" y1="622.5" x2="750.79" y2="620.3" stroke="#000" stroke-width="1.8"/>
<line x1="764.3" y1="622.5" x2="764.3" y2="620.3" stroke="#000" stroke-width="1.8"/>
<line x1="773.88" y1="622.5" x2="773.88" y2="620.3" stroke="#000" stroke-width="1.8"/>
<line x1="781.31" y1="622.5" x2="781.31" y2="620.3" stroke="#000" stroke-width="1.8"/>
<line x1="787.38" y1="622.5" x2="787.38" y2="620.3" stroke="#000" stroke-width="1.8"/>
<line x1="792.52" y1="622.5" x2="792.52" y2="620.3" stroke="#000" stroke-width="1.8"/>
<line x1="796.97" y1="622.5" x2="796.97" y2="620.3" stroke="#000" stroke-width="1.8"/>
<line x1="800.89" y1="622.5" x2="800.89" y2="620.3" stroke="#000" stroke-width="1.8"/>
<line x1="804.4" y1="622.5" x2="804.4" y2="619.6" stroke="#000" stroke-width="1.8"/>
<path d="M497.6 399.9V424.3M493.1 399.9H502.1M493.1 424.3H502.1" stroke="#000" stroke-width="1.35" fill="none"/>
<path d="M534.2 383.7V440.5M529.7 383.7H538.7M529.7 440.5H538.7" stroke="#000" stroke-width="1.35" fill="none"/>
<path d="M557.28 377.17V439.03M552.78 377.17H561.78M552.78 439.03H561.78" stroke="#000" stroke-width="1.35" fill="none"/>
<path d="M574.3 399.06V442.4M569.8 399.06H578.8M569.8 442.4H578.8" stroke="#000" stroke-width="1.35" fill="none"/>
<path d="M610.9 387.48V406.84M606.4 387.48H615.4M606.4 406.84H615.4" stroke="#000" stroke-width="1.35" fill="none"/>
<path d="M633.98 398.63V447.03M629.48 398.63H638.48M629.48 447.03H638.48" stroke="#000" stroke-width="1.35" fill="none"/>
<path d="M651 423.88V477.74M646.5 423.88H655.5M646.5 477.74H655.5" stroke="#000" stroke-width="1.35" fill="none"/>
<path d="M687.6 497.1V528.66M683.1 497.1H692.1M683.1 528.66H692.1" stroke="#000" stroke-width="1.35" fill="none"/>
<path d="M710.68 544.65V569.9M706.18 544.65H715.18M706.18 569.9H715.18" stroke="#000" stroke-width="1.35" fill="none"/>
<path d="M727.7 572.85V581.26M723.2 572.85H732.2M723.2 581.26H732.2" stroke="#000" stroke-width="1.35" fill="none"/>
<path d="M764.3 597.25V601.46M759.8 597.25H768.8M759.8 601.46H768.8" stroke="#000" stroke-width="1.35" fill="none"/>
<path d="M497.6 412.1 L534.2 412.1 L557.28 408.1 L574.3 420.73 L610.9 397.16 L633.98 422.83 L651 450.81 L687.6 512.88 L710.68 557.28 L727.7 577.05 L764.3 599.36" stroke="#000" stroke-width="3" fill="none" stroke-linejoin="round"/>
<rect x="494.3" y="408.8" width="6.6" height="6.6" fill="#fff" stroke="#000" stroke-width="1.4"/>
<rect x="530.9" y="408.8" width="6.6" height="6.6" fill="#fff" stroke="#000" stroke-width="1.4"/>
<rect x="553.98" y="404.8" width="6.6" height="6.6" fill="#fff" stroke="#000" stroke-width="1.4"/>
<rect x="571" y="417.43" width="6.6" height="6.6" fill="#fff" stroke="#000" stroke-width="1.4"/>
<rect x="607.6" y="393.86" width="6.6" height="6.6" fill="#fff" stroke="#000" stroke-width="1.4"/>
<rect x="630.68" y="419.53" width="6.6" height="6.6" fill="#fff" stroke="#000" stroke-width="1.4"/>
<rect x="647.7" y="447.51" width="6.6" height="6.6" fill="#fff" stroke="#000" stroke-width="1.4"/>
<rect x="684.3" y="509.58" width="6.6" height="6.6" fill="#fff" stroke="#000" stroke-width="1.4"/>
<rect x="707.38" y="553.98" width="6.6" height="6.6" fill="#fff" stroke="#000" stroke-width="1.4"/>
<rect x="724.4" y="573.75" width="6.6" height="6.6" fill="#fff" stroke="#000" stroke-width="1.4"/>
<rect x="761" y="596.06" width="6.6" height="6.6" fill="#fff" stroke="#000" stroke-width="1.4"/>
<path d="M497.6 399.9V424.3M493.1 399.9H502.1M493.1 424.3H502.1" stroke="#000" stroke-width="1.35" fill="none"/>
<path d="M534.2 405.16V445.97M529.7 405.16H538.7M529.7 445.97H538.7" stroke="#000" stroke-width="1.35" fill="none"/>
<path d="M557.28 374.86V431.67M552.78 374.86H561.78M552.78 431.67H561.78" stroke="#000" stroke-width="1.35" fill="none"/>
<path d="M574.3 380.12V433.14M569.8 380.12H578.8M569.8 433.14H578.8" stroke="#000" stroke-width="1.35" fill="none"/>
<path d="M610.9 428.72V440.08M606.4 428.72H615.4M606.4 440.08H615.4" stroke="#000" stroke-width="1.35" fill="none"/>
<path d="M633.98 503.62V547.81M629.48 503.62H638.48M629.48 547.81H638.48" stroke="#000" stroke-width="1.35" fill="none"/>
<path d="M651 516.46V524.87M646.5 516.46H655.5M646.5 524.87H655.5" stroke="#000" stroke-width="1.35" fill="none"/>
<path d="M687.6 514.35V526.98M683.1 514.35H692.1M683.1 526.98H692.1" stroke="#000" stroke-width="1.35" fill="none"/>
<path d="M710.68 553.07V565.69M706.18 553.07H715.18M706.18 565.69H715.18" stroke="#000" stroke-width="1.35" fill="none"/>
<path d="M727.7 567.38V580M723.2 567.38H732.2M723.2 580H732.2" stroke="#000" stroke-width="1.35" fill="none"/>
<path d="M764.3 583.16V587.36M759.8 583.16H768.8M759.8 587.36H768.8" stroke="#000" stroke-width="1.35" fill="none"/>
<path d="M497.6 412.1 L534.2 425.57 L557.28 403.26 L574.3 406.63 L610.9 434.4 L633.98 525.72 L651 520.67 L687.6 520.67 L710.68 559.38 L727.7 573.69 L764.3 585.26" stroke="#000" stroke-width="3" fill="none" stroke-linejoin="round"/>
<path d="M497.6 407.46L502.12 415.58L493.09 415.58Z" fill="#000" stroke="#000" stroke-width="0.8"/>
<path d="M534.2 420.92L538.71 429.05L529.68 429.05Z" fill="#000" stroke="#000" stroke-width="0.8"/>
<path d="M557.28 398.62L561.8 406.75L552.77 406.75Z" fill="#000" stroke="#000" stroke-width="0.8"/>
<path d="M574.3 401.99L578.82 410.11L569.79 410.11Z" fill="#000" stroke="#000" stroke-width="0.8"/>
<path d="M610.9 429.76L615.41 437.89L606.38 437.89Z" fill="#000" stroke="#000" stroke-width="0.8"/>
<path d="M633.98 521.07L638.5 529.2L629.47 529.2Z" fill="#000" stroke="#000" stroke-width="0.8"/>
<path d="M651 516.02L655.51 524.15L646.49 524.15Z" fill="#000" stroke="#000" stroke-width="0.8"/>
<path d="M687.6 516.02L692.11 524.15L683.08 524.15Z" fill="#000" stroke="#000" stroke-width="0.8"/>
<path d="M710.68 554.74L715.2 562.86L706.17 562.86Z" fill="#000" stroke="#000" stroke-width="0.8"/>
<path d="M727.7 569.04L732.22 577.17L723.19 577.17Z" fill="#000" stroke="#000" stroke-width="0.8"/>
<path d="M764.3 580.62L768.81 588.74L759.78 588.74Z" fill="#000" stroke="#000" stroke-width="0.8"/>
<line x1="539.9" y1="357.3" x2="573.8" y2="357.3" stroke="#000" stroke-width="2.2"/>
<rect x="553.75" y="354.15" width="6.3" height="6.3" fill="#fff" stroke="#000" stroke-width="1.4"/>
<text x="579.12" y="362" font-size="16.1" font-weight="bold" >Dox Alone</text>
<line x1="672.6" y1="357.3" x2="707.5" y2="357.3" stroke="#000" stroke-width="2.2"/>
<path d="M689 352.98L693.2 360.54L684.8 360.54Z" fill="#000" stroke="#000" stroke-width="0.8"/>
<text x="712.42" y="362" font-size="15.97" font-weight="bold" >Dox/NP</text>
<text x="694.89" y="408.7" font-size="23.08" font-weight="bold" >SKOV-3</text>
<text x="778.58" y="414.8" font-size="14.61" font-weight="bold" >TR</text>
<text transform="translate(477.92,628.11) scale(1,1.07)" font-size="14" font-weight="bold" >0</text>
<text transform="translate(467.5,586) scale(1,1.07)" font-size="14" font-weight="bold" >0.2</text>
<text transform="translate(467.14,543.92) scale(1,1.07)" font-size="14" font-weight="bold" >0.4</text>
<text transform="translate(467.32,501.84) scale(1,1.07)" font-size="14" font-weight="bold" >0.6</text>
<text transform="translate(467.35,459.76) scale(1,1.07)" font-size="14" font-weight="bold" >0.8</text>
<text transform="translate(478.13,417.74) scale(1,1.07)" font-size="14" font-weight="bold" >1</text>
<text transform="translate(467.5,375.58) scale(1,1.07)" font-size="14" font-weight="bold" >1.2</text>
<text transform="translate(480.01,642.5) scale(1,1.06)" font-size="15.2" font-weight="bold" >0.001</text>
<text transform="translate(560.81,642.5) scale(1,1.06)" font-size="15.2" font-weight="bold" >0.01</text>
<text transform="translate(640.11,642.5) scale(1,1.06)" font-size="15.2" font-weight="bold" >0.1</text>
<text transform="translate(719.49,642.5) scale(1,1.06)" font-size="15.2" font-weight="bold" >1</text>
<text transform="translate(794.08,642.5) scale(1,1.06)" font-size="15.2" font-weight="bold" >10</text>
<text x="576.16" y="671" font-size="19.35" font-weight="bold" >Doxorubicin (μM)</text>
<text x="435.83" y="677" font-size="27.02" font-weight="bold" >D</text>
<text transform="translate(450.48,565.92) rotate(-90)" x="0" y="0" font-size="22.03" font-weight="bold">Absorbance</text>
<line x1="209" y1="744.8" x2="209" y2="954.65" stroke="#000" stroke-width="2.3"/>
<line x1="207.85" y1="953.5" x2="632.8" y2="953.5" stroke="#000" stroke-width="2.3"/>
<line x1="209" y1="918.85" x2="213" y2="918.85" stroke="#000" stroke-width="2.2"/>
<line x1="209" y1="884.2" x2="213" y2="884.2" stroke="#000" stroke-width="2.2"/>
<line x1="209" y1="849.55" x2="213" y2="849.55" stroke="#000" stroke-width="2.2"/>
<line x1="209" y1="814.9" x2="213" y2="814.9" stroke="#000" stroke-width="2.2"/>
<line x1="209" y1="780.25" x2="213" y2="780.25" stroke="#000" stroke-width="2.2"/>
<line x1="209" y1="745.6" x2="213" y2="745.6" stroke="#000" stroke-width="2.2"/>
<line x1="208.8" y1="953.5" x2="208.8" y2="957.65" stroke="#000" stroke-width="1.8"/>
<line x1="251.25" y1="953.5" x2="251.25" y2="951.35" stroke="#000" stroke-width="1.8"/>
<line x1="276.07" y1="953.5" x2="276.07" y2="951.35" stroke="#000" stroke-width="1.8"/>
<line x1="293.69" y1="953.5" x2="293.69" y2="951.35" stroke="#000" stroke-width="1.8"/>
<line x1="307.35" y1="953.5" x2="307.35" y2="951.35" stroke="#000" stroke-width="1.8"/>
<line x1="318.52" y1="953.5" x2="318.52" y2="951.35" stroke="#000" stroke-width="1.8"/>
<line x1="327.96" y1="953.5" x2="327.96" y2="951.35" stroke="#000" stroke-width="1.8"/>
<line x1="336.14" y1="953.5" x2="336.14" y2="951.35" stroke="#000" stroke-width="1.8"/>
<line x1="343.35" y1="953.5" x2="343.35" y2="951.35" stroke="#000" stroke-width="1.8"/>
<line x1="349.8" y1="953.5" x2="349.8" y2="957.65" stroke="#000" stroke-width="1.8"/>
<line x1="392.25" y1="953.5" x2="392.25" y2="951.35" stroke="#000" stroke-width="1.8"/>
<line x1="417.07" y1="953.5" x2="417.07" y2="951.35" stroke="#000" stroke-width="1.8"/>
<line x1="434.69" y1="953.5" x2="434.69" y2="951.35" stroke="#000" stroke-width="1.8"/>
<line x1="448.35" y1="953.5" x2="448.35" y2="951.35" stroke="#000" stroke-width="1.8"/>
<line x1="459.52" y1="953.5" x2="459.52" y2="951.35" stroke="#000" stroke-width="1.8"/>
<line x1="468.96" y1="953.5" x2="468.96" y2="951.35" stroke="#000" stroke-width="1.8"/>
<line x1="477.14" y1="953.5" x2="477.14" y2="951.35" stroke="#000" stroke-width="1.8"/>
<line x1="484.35" y1="953.5" x2="484.35" y2="951.35" stroke="#000" stroke-width="1.8"/>
<line x1="490.8" y1="953.5" x2="490.8" y2="957.65" stroke="#000" stroke-width="1.8"/>
<line x1="533.25" y1="953.5" x2="533.25" y2="951.35" stroke="#000" stroke-width="1.8"/>
<line x1="558.07" y1="953.5" x2="558.07" y2="951.35" stroke="#000" stroke-width="1.8"/>
<line x1="575.69" y1="953.5" x2="575.69" y2="951.35" stroke="#000" stroke-width="1.8"/>
<line x1="589.35" y1="953.5" x2="589.35" y2="951.35" stroke="#000" stroke-width="1.8"/>
<line x1="600.52" y1="953.5" x2="600.52" y2="951.35" stroke="#000" stroke-width="1.8"/>
<line x1="609.96" y1="953.5" x2="609.96" y2="951.35" stroke="#000" stroke-width="1.8"/>
<line x1="618.14" y1="953.5" x2="618.14" y2="951.35" stroke="#000" stroke-width="1.8"/>
<line x1="625.35" y1="953.5" x2="625.35" y2="951.35" stroke="#000" stroke-width="1.8"/>
<line x1="631.8" y1="953.5" x2="631.8" y2="957.65" stroke="#000" stroke-width="1.8"/>
<path d="M208.8 771.59V788.91M204.55 771.59H213.05M204.55 788.91H213.05" stroke="#000" stroke-width="1.1" fill="none"/>
<path d="M349.8 752.18V763.27M345.55 752.18H354.05M345.55 763.27H354.05" stroke="#000" stroke-width="1.1" fill="none"/>
<path d="M417.07 750.8V771.59M412.82 750.8H421.32M412.82 771.59H421.32" stroke="#000" stroke-width="1.1" fill="none"/>
<path d="M459.52 773.84V780.77M455.27 773.84H463.77M455.27 780.77H463.77" stroke="#000" stroke-width="1.1" fill="none"/>
<path d="M490.8 770.03V785.27M486.55 770.03H495.05M486.55 785.27H495.05" stroke="#000" stroke-width="1.1" fill="none"/>
<path d="M558.07 780.25V783.71M553.82 780.25H562.32M553.82 783.71H562.32" stroke="#000" stroke-width="1.1" fill="none"/>
<path d="M600.52 781.98V799.31M596.27 781.98H604.77M596.27 799.31H604.77" stroke="#000" stroke-width="1.1" fill="none"/>
<path d="M631.8 826.68V847.47M627.55 826.68H636.05M627.55 847.47H636.05" stroke="#000" stroke-width="1.1" fill="none"/>
<path d="M208.8 780.25 L349.8 757.73 L417.07 761.19 L459.52 777.3 L490.8 777.65 L558.07 781.98 L600.52 790.64 L631.8 837.08" stroke="#000" stroke-width="1.15" fill="none" stroke-linejoin="round"/>
<rect x="204.55" y="776" width="8.5" height="8.5" fill="#fff" stroke="#000" stroke-width="1.1"/>
<rect x="345.55" y="753.48" width="8.5" height="8.5" fill="#fff" stroke="#000" stroke-width="1.1"/>
<rect x="412.82" y="756.94" width="8.5" height="8.5" fill="#fff" stroke="#000" stroke-width="1.1"/>
<rect x="455.27" y="773.05" width="8.5" height="8.5" fill="#fff" stroke="#000" stroke-width="1.1"/>
<rect x="486.55" y="773.4" width="8.5" height="8.5" fill="#fff" stroke="#000" stroke-width="1.1"/>
<rect x="553.82" y="777.73" width="8.5" height="8.5" fill="#fff" stroke="#000" stroke-width="1.1"/>
<rect x="596.27" y="786.39" width="8.5" height="8.5" fill="#fff" stroke="#000" stroke-width="1.1"/>
<rect x="627.55" y="832.83" width="8.5" height="8.5" fill="#fff" stroke="#000" stroke-width="1.1"/>
<path d="M208.8 775.05V785.45M204.55 775.05H213.05M204.55 785.45H213.05" stroke="#000" stroke-width="1.1" fill="none"/>
<path d="M349.8 752.18V763.27M345.55 752.18H354.05M345.55 763.27H354.05" stroke="#000" stroke-width="1.1" fill="none"/>
<path d="M417.07 773.49V808.14M412.82 773.49H421.32M412.82 808.14H421.32" stroke="#000" stroke-width="1.1" fill="none"/>
<path d="M459.52 789.61V799.65M455.27 789.61H463.77M455.27 799.65H463.77" stroke="#000" stroke-width="1.1" fill="none"/>
<path d="M490.8 783.37V790.3M486.55 783.37H495.05M486.55 790.3H495.05" stroke="#000" stroke-width="1.1" fill="none"/>
<path d="M558.07 803.64V810.57M553.82 803.64H562.32M553.82 810.57H562.32" stroke="#000" stroke-width="1.1" fill="none"/>
<path d="M600.52 873.63V888.53M596.27 873.63H604.77M596.27 888.53H604.77" stroke="#000" stroke-width="1.1" fill="none"/>
<path d="M631.8 876.4V890.26M627.55 876.4H636.05M627.55 890.26H636.05" stroke="#000" stroke-width="1.1" fill="none"/>
<path d="M208.8 780.25 L349.8 757.73 L417.07 790.82 L459.52 794.63 L490.8 786.83 L558.07 807.1 L600.52 881.08 L631.8 883.33" stroke="#000" stroke-width="1.15" fill="none" stroke-linejoin="round"/>
<path d="M208.8 775.78L213.5 784.72L204.1 784.72Z" fill="#fff" stroke="#000" stroke-width="1.1"/>
<path d="M349.8 753.26L354.5 762.19L345.1 762.19Z" fill="#fff" stroke="#000" stroke-width="1.1"/>
<path d="M417.07 786.35L421.77 795.28L412.37 795.28Z" fill="#fff" stroke="#000" stroke-width="1.1"/>
<path d="M459.52 790.16L464.22 799.09L454.82 799.09Z" fill="#fff" stroke="#000" stroke-width="1.1"/>
<path d="M490.8 782.37L495.5 791.3L486.1 791.3Z" fill="#fff" stroke="#000" stroke-width="1.1"/>
<path d="M558.07 802.64L562.77 811.57L553.37 811.57Z" fill="#fff" stroke="#000" stroke-width="1.1"/>
<path d="M600.52 876.62L605.22 885.55L595.82 885.55Z" fill="#fff" stroke="#000" stroke-width="1.1"/>
<path d="M631.8 878.87L636.5 887.8L627.1 887.8Z" fill="#fff" stroke="#000" stroke-width="1.1"/>
<path d="M208.8 775.05V785.45M204.55 775.05H213.05M204.55 785.45H213.05" stroke="#000" stroke-width="1.1" fill="none"/>
<path d="M349.8 773.32V785.45M345.55 773.32H354.05M345.55 785.45H354.05" stroke="#000" stroke-width="1.1" fill="none"/>
<path d="M417.07 788.05V794.98M412.82 788.05H421.32M412.82 794.98H421.32" stroke="#000" stroke-width="1.1" fill="none"/>
<path d="M459.52 773.32V780.25M455.27 773.32H463.77M455.27 780.25H463.77" stroke="#000" stroke-width="1.1" fill="none"/>
<path d="M490.8 775.92V782.85M486.55 775.92H495.05M486.55 782.85H495.05" stroke="#000" stroke-width="1.1" fill="none"/>
<path d="M558.07 794.8V801.73M553.82 794.8H562.32M553.82 801.73H562.32" stroke="#000" stroke-width="1.1" fill="none"/>
<path d="M600.52 898.41V919.2M596.27 898.41H604.77M596.27 919.2H604.77" stroke="#000" stroke-width="1.1" fill="none"/>
<path d="M631.8 923.7V927.17M627.55 923.7H636.05M627.55 927.17H636.05" stroke="#000" stroke-width="1.1" fill="none"/>
<path d="M208.8 780.25 L349.8 779.38 L417.07 791.51 L459.52 776.78 L490.8 779.38 L558.07 798.27 L600.52 908.8 L631.8 925.43" stroke="#000" stroke-width="1.15" fill="none" stroke-linejoin="round"/>
<path d="M208.8 775.55L213.5 780.25L208.8 784.95L204.1 780.25Z" fill="#fff" stroke="#000" stroke-width="1.1"/>
<path d="M349.8 774.68L354.5 779.38L349.8 784.08L345.1 779.38Z" fill="#fff" stroke="#000" stroke-width="1.1"/>
<path d="M417.07 786.81L421.77 791.51L417.07 796.21L412.37 791.51Z" fill="#fff" stroke="#000" stroke-width="1.1"/>
<path d="M459.52 772.08L464.22 776.78L459.52 781.49L454.82 776.78Z" fill="#fff" stroke="#000" stroke-width="1.1"/>
<path d="M490.8 774.68L495.5 779.38L490.8 784.08L486.1 779.38Z" fill="#fff" stroke="#000" stroke-width="1.1"/>
<path d="M558.07 793.57L562.77 798.27L558.07 802.97L553.37 798.27Z" fill="#fff" stroke="#000" stroke-width="1.1"/>
<path d="M600.52 904.1L605.22 908.8L600.52 913.5L595.82 908.8Z" fill="#fff" stroke="#000" stroke-width="1.1"/>
<path d="M631.8 920.73L636.5 925.43L631.8 930.13L627.1 925.43Z" fill="#fff" stroke="#000" stroke-width="1.1"/>
<path d="M208.8 775.05V785.45M204.55 775.05H213.05M204.55 785.45H213.05" stroke="#000" stroke-width="1.1" fill="none"/>
<path d="M349.8 768.12V775.05M345.55 768.12H354.05M345.55 775.05H354.05" stroke="#000" stroke-width="1.1" fill="none"/>
<path d="M417.07 750.8V771.59M412.82 750.8H421.32M412.82 771.59H421.32" stroke="#000" stroke-width="1.1" fill="none"/>
<path d="M459.52 768.99V779.73M455.27 768.99H463.77M455.27 779.73H463.77" stroke="#000" stroke-width="1.1" fill="none"/>
<path d="M490.8 811.95V815.42M486.55 811.95H495.05M486.55 815.42H495.05" stroke="#000" stroke-width="1.1" fill="none"/>
<path d="M558.07 813.17V816.63M553.82 813.17H562.32M553.82 816.63H562.32" stroke="#000" stroke-width="1.1" fill="none"/>
<path d="M600.52 792.03V798.96M596.27 792.03H604.77M596.27 798.96H604.77" stroke="#000" stroke-width="1.1" fill="none"/>
<path d="M631.8 801.04V804.5M627.55 801.04H636.05M627.55 804.5H636.05" stroke="#000" stroke-width="1.1" fill="none"/>
<path d="M208.8 780.25 L349.8 771.59 L417.07 761.19 L459.52 774.36 L490.8 813.69 L558.07 814.9 L600.52 795.5 L631.8 802.77" stroke="#000" stroke-width="1.15" fill="none" stroke-linejoin="round"/>
<circle cx="208.8" cy="780.25" r="4.5" fill="#fff" stroke="#000" stroke-width="1.1"/>
<circle cx="349.8" cy="771.59" r="4.5" fill="#fff" stroke="#000" stroke-width="1.1"/>
<circle cx="417.07" cy="761.19" r="4.5" fill="#fff" stroke="#000" stroke-width="1.1"/>
<circle cx="459.52" cy="774.36" r="4.5" fill="#fff" stroke="#000" stroke-width="1.1"/>
<circle cx="490.8" cy="813.69" r="4.5" fill="#fff" stroke="#000" stroke-width="1.1"/>
<circle cx="558.07" cy="814.9" r="4.5" fill="#fff" stroke="#000" stroke-width="1.1"/>
<circle cx="600.52" cy="795.5" r="4.5" fill="#fff" stroke="#000" stroke-width="1.1"/>
<circle cx="631.8" cy="802.77" r="4.5" fill="#fff" stroke="#000" stroke-width="1.1"/>
<path d="M417.07 786.35L421.77 795.28L412.37 795.28Z" fill="#fff" stroke="#000" stroke-width="1.1"/>
<line x1="223.1" y1="723.3" x2="254.3" y2="723.3" stroke="#000" stroke-width="1.2"/>
<path d="M238.2 719.78L241.9 726.81L234.5 726.81Z" fill="#fff" stroke="#000" stroke-width="1.1"/>
<text x="262.13" y="729.7" font-size="15.21" font-weight="bold" >KHOS</text>
<text x="308.41" y="733.3" font-size="10.58" font-weight="bold" >R2</text>
<line x1="320.5" y1="723.4" x2="351.2" y2="723.4" stroke="#000" stroke-width="1.2"/>
<rect x="333.7" y="720.6" width="5.6" height="5.6" fill="#fff" stroke="#000" stroke-width="1.1"/>
<text x="354.64" y="729.9" font-size="16.46" font-weight="bold" >SKOV-3</text>
<text x="416.06" y="733.3" font-size="9.26" font-weight="bold" >TR</text>
<line x1="438.6" y1="723.4" x2="468.9" y2="723.4" stroke="#000" stroke-width="1.2"/>
<path d="M453.3 720L456.7 723.4L453.3 726.8L449.9 723.4Z" fill="#fff" stroke="#000" stroke-width="1.1"/>
<text x="474.33" y="729.9" font-size="15.42" font-weight="bold" >KHOS</text>
<line x1="528" y1="723.4" x2="558.3" y2="723.4" stroke="#000" stroke-width="1.2"/>
<circle cx="542" cy="723.4" r="3" fill="#fff" stroke="#000" stroke-width="1.1"/>
<text x="562.64" y="729.9" font-size="16.29" font-weight="bold" >SKOV-3</text>
<text transform="translate(188.77,957.73) scale(1,1.07)" font-size="15.2" font-weight="bold" >0</text>
<text transform="translate(177.45,923.04) scale(1,1.07)" font-size="15.2" font-weight="bold" >0.2</text>
<text transform="translate(177.07,888.39) scale(1,1.07)" font-size="15.2" font-weight="bold" >0.4</text>
<text transform="translate(177.26,853.74) scale(1,1.07)" font-size="15.2" font-weight="bold" >0.6</text>
<text transform="translate(177.29,819.09) scale(1,1.07)" font-size="15.2" font-weight="bold" >0.8</text>
<text transform="translate(189,783.62) scale(1,1.07)" font-size="15.2" font-weight="bold" >1</text>
<text transform="translate(177.45,752.97) scale(1,1.07)" font-size="15.2" font-weight="bold" >1.2</text>
<text transform="translate(195.69,974.2) scale(1,1.06)" font-size="15" font-weight="bold" >0.01</text>
<text transform="translate(339.74,974.2) scale(1,1.06)" font-size="15" font-weight="bold" >0.1</text>
<text transform="translate(485.04,974.2) scale(1,1.06)" font-size="15" font-weight="bold" >1</text>
<text transform="translate(622.18,974.2) scale(1,1.06)" font-size="15" font-weight="bold" >10</text>
<text x="254.72" y="1002.8" font-size="19.51" font-weight="bold" >Concentration of Nanoparticles (mg/mL)</text>
<text x="155.13" y="1001.7" font-size="26.95" font-weight="bold" >E</text>
<text transform="translate(167.11,908.29) rotate(-90)" x="0" y="0" font-size="19.45" font-weight="bold">Absorbance</text>
</svg></body></html>
